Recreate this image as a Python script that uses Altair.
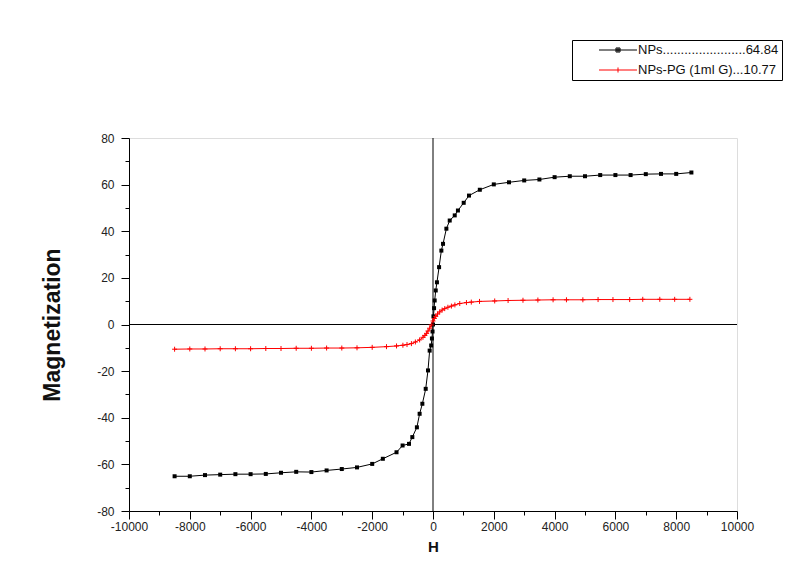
import altair as alt
import pandas as pd

# ---- data ----
np_H = [-8500, -8000, -7500, -7000, -6500, -6000, -5500, -5000, -4500, -4000,
        -3500, -3000, -2500, -2000, -1650, -1200, -1000, -790, -680, -530,
        -440, -350, -240, -165, -110, -60, -35, -15, 0, 15, 35, 55, 90, 130,
        200, 275, 330, 440, 550, 715, 820, 1010, 1185, 1540, 2000, 2500, 3000,
        3500, 4000, 4500, 5000, 5500, 6000, 6500, 7000, 7500, 8000, 8500]
np_M = [-65.1, -65.1, -64.6, -64.4, -64.2, -64.2, -64.1, -63.6, -63.2, -63.3,
        -62.6, -62.0, -61.3, -59.8, -57.6, -54.8, -51.9, -51.2, -48.3, -44.1,
        -38.3, -34.0, -27.6, -19.7, -11.2, -9.0, -6.0, -3.0, 0.0, 3.5, 7.0, 10.3, 14.6, 18.1,
        24.6, 31.7, 34.6, 41.1, 44.6, 46.8, 48.9, 52.2, 55.3, 57.8, 60.1, 61.0, 61.8,
        62.2, 63.2, 63.6, 63.6, 64.1, 64.1, 64.1, 64.5, 64.6, 64.6, 65.2]

pg_H = [-8500, -8000, -7500, -7000, -6500, -6000, -5500, -5000, -4500, -4000,
        -3500, -3000, -2500, -2000, -1530, -1200, -990, -855, -710, -580,
        -440, -330, -270, -210, -165, -110, -55, 0, 45, 90, 150, 220, 300,
        385, 490, 605, 720, 880, 1100, 1260, 1530, 2030, 2470, 2960, 3450,
        3950, 4390, 4930, 5430, 5920, 6470, 6900, 7460, 7950, 8450]
pg_M = [-10.6, -10.5, -10.5, -10.4, -10.4, -10.4, -10.3, -10.3, -10.2, -10.2,
        -10.1, -10.1, -10.0, -9.8, -9.5, -9.2, -8.9, -8.6, -8.2, -7.5,
        -6.6, -5.5, -4.7, -3.8, -2.8, -1.6, -0.2, 1.5, 2.6, 3.5, 4.5, 5.4, 6.2,
        6.8, 7.4, 7.9, 8.4, 9.0, 9.4, 9.6, 9.9, 10.1, 10.3, 10.4, 10.5,
        10.6, 10.6, 10.6, 10.7, 10.7, 10.7, 10.8, 10.8, 10.8, 10.8]

series_names = ["NPs" + "." * 23 + "64.84", "NPs-PG (1ml G)...10.77"]
series_colors = ["#000000", "#ff0000"]

x_ticks = list(range(-10000, 10001, 1000))
y_ticks = list(range(-80, 81, 10))

df_np = pd.DataFrame({"H": np_H, "M": np_M, "series": series_names[0]})
df_pg = pd.DataFrame({"H": pg_H, "M": pg_M, "series": series_names[1]})
df_all = pd.concat([df_np, df_pg], ignore_index=True)

W, HT = 608, 373
FONT = "Liberation Sans"

xscale = alt.Scale(domain=[-10000, 10000], nice=False, zero=False)
yscale = alt.Scale(domain=[-80, 80], nice=False, zero=False)

x_axis = alt.Axis(
    values=x_ticks,
    labelExpr="datum.value % 2000 === 0 ? '' + datum.value : ''",
    tickSize={"condition": {"test": "datum.value % 2000 === 0", "value": 8}, "value": 4},
    grid=False, domainColor="black", tickColor="black", domainWidth=1, tickWidth=1,
    labelFont=FONT, labelFontSize=12, labelColor="#222222", labelPadding=2,
    labelOverlap=False, labelFlush=False,
    title="H", titleFont=FONT, titleFontSize=15, titleFontWeight="bold",
    titleColor="#111111", titlePadding=7,
)
y_axis = alt.Axis(
    values=y_ticks,
    labelExpr="datum.value % 20 === 0 ? '' + datum.value : ''",
    tickSize={"condition": {"test": "datum.value % 20 === 0", "value": 8}, "value": 4},
    grid=False, domainColor="black", tickColor="black", domainWidth=1, tickWidth=1,
    labelFont=FONT, labelFontSize=12, labelColor="#222222", labelPadding=7,
    labelOverlap=False, labelFlush=False,
    title="Magnetization", titleFont=FONT, titleFontSize=23, titleFontWeight="bold",
    titleColor="#111111", titlePadding=32,
)

X = alt.X("H:Q", scale=xscale, axis=x_axis)
Y = alt.Y("M:Q", scale=yscale, axis=y_axis)

zero_v = alt.Chart(pd.DataFrame({"H": [0]})).mark_rule(color="black", strokeWidth=1).encode(x=X)
zero_h = alt.Chart(pd.DataFrame({"M": [0]})).mark_rule(color="black", strokeWidth=1).encode(y=Y)

line_np = alt.Chart(df_np).mark_line(color="black", strokeWidth=1).encode(x=X, y=Y)
pts_np = alt.Chart(df_np).mark_point(shape="square", filled=True, size=16,
                                     color="black", opacity=1).encode(x=X, y=Y)
line_pg = alt.Chart(df_pg).mark_line(color="#ff0000", strokeWidth=1).encode(x=X, y=Y)
pts_pg = alt.Chart(df_pg).mark_point(shape="M-1,0H1M0,-1V1", filled=False, size=25,
                                     color="#ff0000", strokeWidth=1, opacity=1).encode(x=X, y=Y)

legend_paths = [
    "M-3,0H3M-0.32,-0.32H0.32V0.32H-0.32ZM-0.16,-0.16H0.16V0.16H-0.16Z",
    "M-3,0H3M0,-0.4V0.4",
]
leg = alt.Legend(
    title=None, orient="none", legendX=443, legendY=-98,
    strokeColor="black", padding=3, symbolOffset=36, labelOffset=13,
    rowPadding=6, labelFont=FONT, labelFontSize=13, labelColor="#111111",
    labelLimit=600, symbolStrokeWidth=1, symbolSize=160,
)
legend_layer = alt.Chart(df_all).transform_filter("datum.H > 1000000").mark_point(
    size=160, filled=False, strokeWidth=1, opacity=1
).encode(
    x=X, y=Y,
    color=alt.Color("series:N", scale=alt.Scale(domain=series_names, range=series_colors), legend=leg),
    shape=alt.Shape("series:N", scale=alt.Scale(domain=series_names, range=legend_paths), legend=leg),
)

chart = alt.layer(zero_v, zero_h, line_np, line_pg, pts_np, pts_pg, legend_layer).properties(
    width=W, height=HT,
    autosize=alt.AutoSizeParams(type="none"),
    padding={"left": 121, "top": 130, "right": 54, "bottom": 50},
).configure_view(stroke=None).configure(background="white")

chart.save("out.html", embed_options={"renderer": "svg", "actions": False})
